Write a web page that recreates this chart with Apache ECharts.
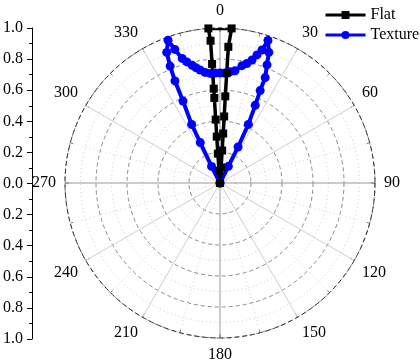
<!DOCTYPE html>
<html>
<head>
<meta charset="utf-8">
<script src="https://cdn.jsdelivr.net/npm/echarts/dist/echarts.min.js"></script>
<style>
  html, body { margin: 0; padding: 0; background: #fff; }
  #chart { width: 420px; height: 360px; }
</style>
</head>
<body>
<div id="chart"></div>
<script>
// angle in degrees (0 = top, clockwise), radius normalised 0..1
var flatAngle = [0, -4.5, -4.2, -4.0, -3.9, -3.8, -3.8, -3.8, -3.8, -4.3, 4.3, 3.5, 3.5, 3.5, 3.6, 3.7, 3.8, 4.0, 0];
var flatR     = [0, 0.08, 0.19, 0.30, 0.41, 0.55, 0.61, 0.77, 0.92, 1.00, 1.00, 0.88, 0.71, 0.56, 0.43, 0.32, 0.21, 0.10, 0];

var texturedAngle = [-28, -27, -26, -25.8, -24.3, -23.8, -23.1, -22.2, -20, -18.7, -16.9, -15.3, -13.3, -11.8, -10, -7.7, -5.2, -2.6, 0,
                     2.6, 5.1, 7.6, 10.6, 12.7, 14.6, 16.1, 17.5, 18.6, 20.5, 21.7, 23.2, 23.5, 24.4, 25.8, 26.6, 26.6, 28];
var texturedR     = [0, 0.12, 0.29, 0.42, 0.58, 0.72, 0.82, 0.91, 0.98, 0.91, 0.84, 0.81, 0.78, 0.76, 0.74, 0.72, 0.71, 0.71, 0.71,
                     0.71, 0.72, 0.73, 0.77, 0.79, 0.82, 0.86, 0.90, 0.97, 0.90, 0.82, 0.74, 0.65, 0.55, 0.42, 0.26, 0.12, 0];

var angleTicks = [0, 360, 30];   // min, max, interval
var radiusTicks = [0, 1, 0.2];

function toPolar(rs, as) {
  return rs.map(function (r, i) { return [r, (as[i] + 360) % 360]; });
}

var font = 'Liberation Serif, Times New Roman, serif';
var chart = echarts.init(document.getElementById('chart'));

var option = {
  animation: false,
  backgroundColor: '#fff',
  legend: {
    orient: 'vertical',
    left: 319,
    top: 2,
    itemWidth: 40,
    itemHeight: 10,
    itemGap: 4,
    data: ['Flat', 'Textured'],
    lineStyle: { width: 3 },
    textStyle: { fontFamily: font, fontSize: 16, color: '#000' }
  },
  polar: { center: [220, 183], radius: 155 },
  angleAxis: {
    type: 'value',
    min: angleTicks[0],
    max: angleTicks[1],
    interval: angleTicks[2],
    startAngle: 90,
    clockwise: true,
    axisLine: { show: true, lineStyle: { color: '#333', type: [5, 3], width: 1 } },
    axisTick: { show: true, inside: true, length: 4, lineStyle: { color: '#555' } },
    minorTick: { show: true, splitNumber: 2, length: 3, lineStyle: { color: '#777' } },
    axisLabel: {
      margin: 9,
      fontFamily: font, fontSize: 16, color: '#000',
      formatter: function (v) { return v === 360 ? '' : String(v); }
    },
    splitLine: { show: true, lineStyle: { color: ['#999', '#cfcfcf', '#cfcfcf'], width: 1 } },
    minorSplitLine: { show: true, lineStyle: { color: '#d8d8d8', type: [1, 3], width: 1 } }
  },
  radiusAxis: {
    type: 'value',
    min: radiusTicks[0],
    max: radiusTicks[1],
    interval: radiusTicks[2],
    axisLine: { show: false },
    axisTick: { show: false },
    axisLabel: { show: false },
    minorTick: { show: false, splitNumber: 2 },
    splitLine: { show: true, lineStyle: { color: '#8a8a8a', type: [4, 3], width: 1 } },
    minorSplitLine: { show: true, lineStyle: { color: '#cccccc', type: [1, 3], width: 1 } }
  },
  grid: { left: 32, top: 28, width: 10, height: 311 },
  xAxis: { type: 'value', show: false },
  yAxis: {
    type: 'value',
    min: -1,
    max: 1,
    interval: 0.2,
    position: 'left',
    axisLine: { show: true, lineStyle: { color: '#000', width: 1 } },
    axisTick: { show: true, inside: false, length: 5, lineStyle: { color: '#000' } },
    minorTick: { show: true, splitNumber: 2, length: 3, lineStyle: { color: '#000' } },
    axisLabel: {
      margin: 9,
      fontFamily: font, fontSize: 16, color: '#000',
      formatter: function (v) { return Math.abs(v).toFixed(1); }
    },
    splitLine: { show: false }
  },
  series: [
    {
      name: 'Textured',
      type: 'line',
      coordinateSystem: 'polar',
      data: toPolar(texturedR, texturedAngle),
      symbol: 'circle',
      symbolSize: 9,
      color: '#0000ff',
      lineStyle: { color: '#0000ff', width: 4 },
      itemStyle: { color: '#0000ff' },
      clip: false
    },
    {
      name: 'Flat',
      type: 'line',
      coordinateSystem: 'polar',
      data: toPolar(flatR, flatAngle),
      symbol: 'rect',
      symbolSize: 8,
      color: '#000',
      lineStyle: { color: '#000', width: 3.5 },
      itemStyle: { color: '#000' },
      clip: false
    }
  ]
};
chart.setOption(option);
</script>
</body>
</html>
